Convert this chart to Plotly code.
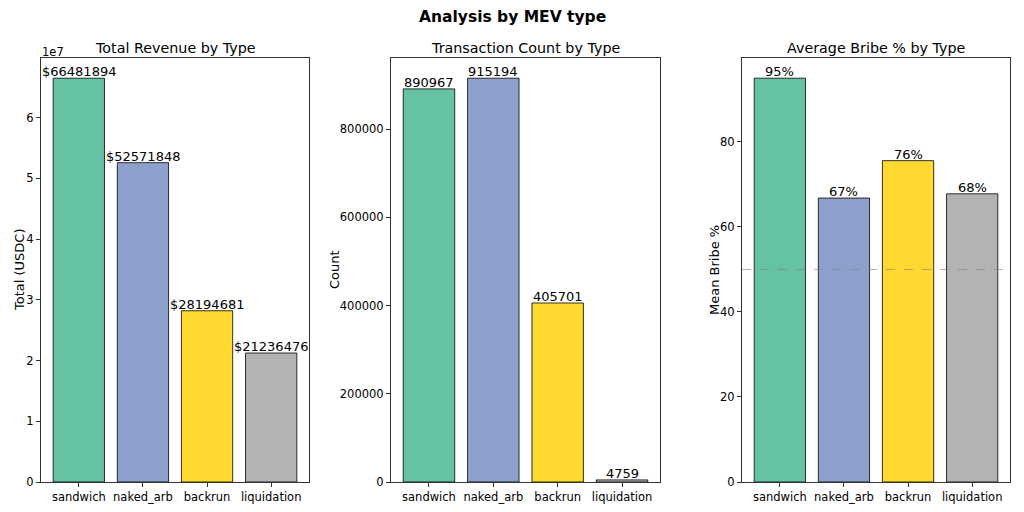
import plotly.graph_objects as go

types = ["sandwich", "naked_arb", "backrun", "liquidation"]
colors = ["#66c2a5", "#8da0cb", "#ffd92f", "#b3b3b3"]
revenue = [66481894, 52571848, 28194681, 21236476]
counts = [890967, 915194, 405701, 4759]
bribe = [95.0, 66.8, 75.6, 67.8]
bribe_ref = 50

# page body has an 8px margin; lay out in window pixels and convert
OFF = 8
FW, FH = 1024 - OFF, 512 - OFF


def px(x):
    return (x - OFF) / FW


def py(y):
    return 1 - (y - OFF) / FH


panels = [(41, 309), (391, 660), (742, 1010)]
ytop, ybot = 58, 482

fig = go.Figure()
font = "DejaVu Sans"

series = [revenue, counts, bribe]
labels = [[f"${v}" for v in revenue], [f"{v}" for v in counts], [f"{v:.0f}%" for v in bribe]]
titles = ["Total Revenue by Type", "Transaction Count by Type", "Average Bribe % by Type"]
ytitles = ["Total (USDC)", "Count", "Mean Bribe %"]
ytitle_x = [19, 334, 714]

annotations = []
for i, vals in enumerate(series):
    xa = "x" if i == 0 else f"x{i+1}"
    ya = "y" if i == 0 else f"y{i+1}"
    fig.add_trace(go.Bar(x=types, y=vals, width=0.8, marker=dict(color=colors, line=dict(color="black", width=0.8)),
                         xaxis=xa, yaxis=ya, showlegend=False, hoverinfo="skip"))
    for t, v, lab in zip(types, vals, labels[i]):
        annotations.append(dict(x=t, y=v, xref=xa, yref=ya, text=lab, showarrow=False,
                                yanchor="bottom", xanchor="center", yshift=-3,
                                font=dict(family=font, size=13, color="black")))
    x0, x1 = panels[i]
    annotations.append(dict(x=px((x0 + x1) / 2), y=py(48), xref="paper", yref="paper", text=titles[i],
                            showarrow=False, xanchor="center", yanchor="middle",
                            font=dict(family=font, size=14.3, color="black")))
    annotations.append(dict(x=px(ytitle_x[i]), y=py(270), xref="paper", yref="paper", text=ytitles[i],
                            showarrow=False, textangle=-90, xanchor="center", yanchor="middle",
                            font=dict(family=font, size=13, color="black")))

annotations.append(dict(x=px(40), y=py(52), xref="paper", yref="paper", text="1e7", showarrow=False,
                        xanchor="left", yanchor="middle", font=dict(family=font, size=11.5, color="black")))
annotations.append(dict(x=px(512), y=py(17), xref="paper", yref="paper", text="<b>Analysis by MEV type</b>",
                        showarrow=False, xanchor="center", yanchor="middle",
                        font=dict(family=font, size=15.5, color="black")))

fig.add_shape(type="line", xref="x3 domain", yref="y3", x0=0, x1=1, y0=bribe_ref, y1=bribe_ref,
              line=dict(color="rgba(128,128,128,0.6)", width=1, dash="dash"))

ymaxes = [max(revenue) * 1.05, max(counts) * 1.05, max(bribe) * 1.05]
yticks = [
    ([i * 1e7 for i in range(0, 7)], [str(i) for i in range(0, 7)]),
    ([0, 200000, 400000, 600000, 800000], ["0", "200000", "400000", "600000", "800000"]),
    ([0, 20, 40, 60, 80], ["0", "20", "40", "60", "80"]),
]

layout = dict(width=FW, height=FH, margin=dict(l=0, r=0, t=0, b=0, autoexpand=False),
              paper_bgcolor="white", plot_bgcolor="white", annotations=annotations)
axcommon = dict(showgrid=False, zeroline=False, showline=True, linecolor="#333", linewidth=1, mirror=True,
                ticks="outside", ticklen=4, tickcolor="#333", automargin=False,
                tickfont=dict(family=font, size=11.5, color="black"))
for i in range(3):
    x0, x1 = panels[i]
    sx = "" if i == 0 else str(i + 1)
    layout[f"xaxis{sx}"] = dict(axcommon, domain=[px(x0), px(x1)], range=[-0.59, 3.59],
                                anchor=f"y{sx}", fixedrange=True)
    layout[f"yaxis{sx}"] = dict(axcommon, domain=[py(ybot), py(ytop)], range=[0, ymaxes[i]],
                                anchor=f"x{sx}", tickmode="array", tickvals=yticks[i][0], ticktext=yticks[i][1],
                                fixedrange=True)
fig.update_layout(**layout)
fig.write_html("out.html")
